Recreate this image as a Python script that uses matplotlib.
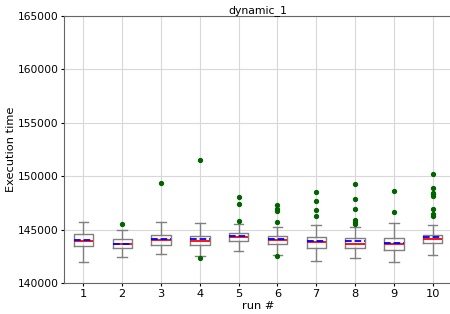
import matplotlib
matplotlib.use("Agg")
import matplotlib.pyplot as plt

# box statistics
runs = [1, 2, 3, 4, 5, 6, 7, 8, 9, 10]
med = [143930, 143620, 143990, 143900, 144310, 144030, 143840, 143680, 143680, 144120]
mean = [143990, 143650, 144090, 144120, 144380, 144120, 143960, 143900, 143710, 144340]
q1 = [143435, 143250, 143590, 143560, 143930, 143620, 143250, 143250, 143090, 143720]
q3 = [144560, 144090, 144470, 144430, 144650, 144370, 144340, 144190, 144190, 144530]
whislo = [141995, 142460, 142690, 142560, 142995, 142600, 142060, 142340, 141940, 142600]
whishi = [145740, 144934, 145680, 145620, 145525, 145275, 145400, 145240, 145620, 145400]
fliers = [
    [],
    [145525],
    [149335],
    [151545, 142310],
    [148050, 147400, 145780],
    [147330, 146900, 146740, 145740, 142500],
    [148520, 147680, 146810, 146250],
    [149270, 147840, 146960, 145900, 145740, 145520],
    [148640, 146680],
    [150180, 148870, 148460, 148310, 148180, 146960, 146460, 146300],
]

stats = []
for i in range(len(runs)):
    stats.append({'label': str(runs[i]), 'med': med[i], 'mean': mean[i],
                  'q1': q1[i], 'q3': q3[i], 'whislo': whislo[i],
                  'whishi': whishi[i], 'fliers': fliers[i]})

fig = plt.figure(figsize=(4.5, 3.14), dpi=100)
ax = fig.add_axes([64/450, 31/314, 388/450, 267/314])

ax.bxp(stats, positions=runs, showmeans=True, meanline=True, widths=0.5,
       boxprops=dict(color='gray'),
       whiskerprops=dict(color='gray'),
       capprops=dict(color='gray'),
       medianprops=dict(color='red', linewidth=1.3),
       meanprops=dict(color='blue', linestyle='--', linewidth=1.3),
       flierprops=dict(marker='o', markerfacecolor='darkgreen',
                       markeredgecolor='darkgreen', markersize=2.8))

ax.set_xlim(0.5, 10.5)
ax.set_ylim(140000, 165000)
ax.grid(True, color='#d8d8d8')
ax.set_axisbelow(True)
for s in ax.spines.values():
    s.set_color('#666666')
ax.tick_params(axis='x', labelsize=8.2, length=2, pad=2)
ax.tick_params(axis='y', labelsize=7.7, length=2, pad=2)
ax.set_title('dynamic_1', fontsize=7.8, pad=1)
ax.set_ylabel('Execution time', fontsize=8.2, labelpad=1)
ax.set_xlabel('run #', fontsize=8.2, labelpad=2)

fig.savefig('out.png', dpi=100)
